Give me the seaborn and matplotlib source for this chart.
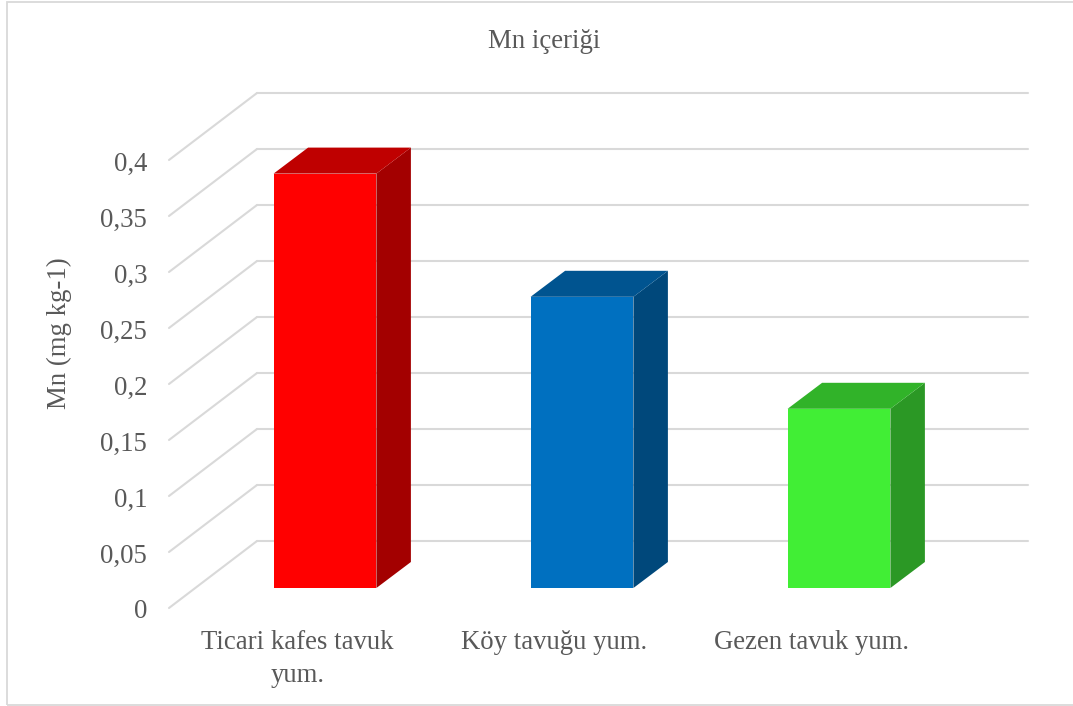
import matplotlib
matplotlib.use('Agg')
import matplotlib.pyplot as plt
import seaborn as sns
from matplotlib.patches import Rectangle
from matplotlib.transforms import Affine2D

categories = ['Ticari kafes tavuk\nyum.', 'Köy tavuğu yum.', 'Gezen tavuk yum.']
values = [0.37, 0.26, 0.16]
y_ticks = [0, 0.05, 0.1, 0.15, 0.2, 0.25, 0.3, 0.35, 0.4]
y_labels = ['0', '0,05', '0,1', '0,15', '0,2', '0,25', '0,3', '0,35', '0,4']
front_colors = ['#FF0000', '#0070C0', '#41EE35']
top_colors = ['#BF0000', '#005490', '#31B329']
side_colors = ['#A30000', '#00487B', '#2B9825']

GRID = '#D9D9D9'
TEXT = '#595959'
FONT_SIZE = 19.3
W, H = 1073, 706

sns.set_theme(style='white')
plt.rcParams['font.family'] = ['Liberation Serif', 'DejaVu Sans']

fig = plt.figure(figsize=(W / 100, H / 100), dpi=100)
# the axes is the back wall of the fake 3D box
ax = fig.add_axes([257 / W, (H - 541) / H, 771 / W, 448 / H])

sns.barplot(x=categories, y=values, hue=categories, palette=front_colors,
            saturation=1, width=0.4, legend=False, linewidth=0, ax=ax)
ax.set_xlim(-0.5, 2.5)
ax.set_ylim(0, 0.4)
ax.set_yticks(y_ticks)
ax.set_yticklabels(y_labels)
sns.despine(ax=ax, left=True, bottom=True)

ax.set_axisbelow(True)
ax.grid(axis='y', color=GRID, linewidth=1.5)
for gl in ax.get_ygridlines():
    gl.set_clip_on(False)

# floor depth in pixels, diagonals run from back wall to the front edge
floor_dx, floor_dy = -88, -67
x_scale = 771 / 3
y_scale = 448 / 0.4
for tick in y_ticks:
    ax.plot([0, floor_dx / 771], [tick, tick + floor_dy / y_scale], color=GRID,
            linewidth=1.5, transform=ax.get_yaxis_transform(), clip_on=False, zorder=0.5)

# bars stand part way into the floor
bar_shift = Affine2D().translate(-60.5, -47)
depth_x, depth_y = 34.5 / x_scale, 26 / y_scale
for bar, top_c, side_c in zip(list(ax.patches), top_colors, side_colors):
    bar.set_transform(ax.transData + bar_shift)
    bar.set_clip_on(False)
    bar.set_zorder(3)
    x0, x1, h = bar.get_x(), bar.get_x() + bar.get_width(), bar.get_height()
    ax.fill([x1, x1 + depth_x, x1 + depth_x, x1], [0, depth_y, h + depth_y, h], color=side_c,
            linewidth=0, transform=ax.transData + bar_shift, clip_on=False, zorder=3)
    ax.fill([x0, x0 + depth_x, x1 + depth_x, x1], [h, h + depth_y, h + depth_y, h], color=top_c,
            linewidth=0, transform=ax.transData + bar_shift, clip_on=False, zorder=3)

ax.tick_params(axis='y', length=0, pad=15.8, labelsize=FONT_SIZE, labelcolor=TEXT)
ax.tick_params(axis='x', length=0, pad=64.2, labelsize=FONT_SIZE, labelcolor=TEXT)
for label in ax.get_yticklabels():
    label.set_transform(label.get_transform() + Affine2D().translate(floor_dx, floor_dy - 1))
for label in ax.get_xticklabels():
    label.set_transform(label.get_transform() + Affine2D().translate(floor_dx, 0))
    label.set_linespacing(1.4)

ax.set_ylabel('Mn (mg kg-1)', fontsize=FONT_SIZE, color=TEXT, va='center')
ax.yaxis.set_label_coords((59 - 257) / 771, (541 - 333) / 448)
ax.set_xlabel('')
ax.set_title('Mn içeriği', fontsize=FONT_SIZE, color=TEXT, x=(544 - 257) / 771, y=(541 - 42) / 448,
             va='center', pad=0)

# chart frame, open on the right side of the crop
fig.add_artist(Rectangle((7 / W, 0.8 / H), 1.1, (H - 2.8) / H, fill=False, edgecolor=GRID,
                         linewidth=1.3, transform=fig.transFigure))

fig.savefig('out.png', dpi=100)
